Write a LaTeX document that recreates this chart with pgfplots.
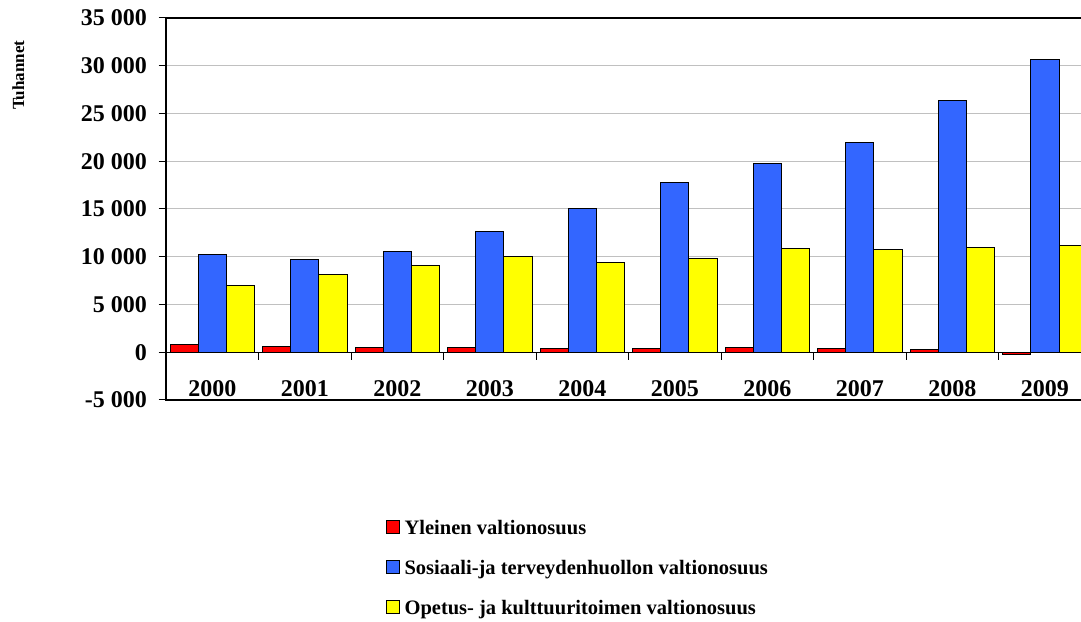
\documentclass[border=0pt]{standalone}
\usepackage{pgfplots}
\usepackage{pgfplotstable}
\pgfplotsset{compat=1.18}
\usepackage{fontspec}
\setmainfont{Liberation Serif}

\definecolor{barred}{HTML}{FF0000}
\definecolor{barblue}{HTML}{3366FF}
\definecolor{baryellow}{HTML}{FFFF00}
\definecolor{gridgray}{HTML}{C0C0C0}

% State grants to municipalities, thousands
\pgfplotstableread{
x year yleinen sosiaali opetus
0 2000  760 10260  6980
1 2001  600  9710  8100
2 2002  490 10540  9040
3 2003  520 12640 10050
4 2004  420 15080  9420
5 2005  420 17730  9840
6 2006  520 19760 10860
7 2007  420 21960 10720
8 2008  310 26360 10930
9 2009 -280 30610 11130
}\grants

\pgfplotsset{
  sqleg/.style={legend image code/.code={\draw[##1] (0pt,-4.5pt) rectangle (13pt,8.5pt);}},
}

\begin{document}
\begin{tikzpicture}[x=1pt,y=1pt]
\begin{axis}[
  at={(179.6,231.5)}, anchor=south west,
  scale only axis, width=925pt, height=382pt,
  xmin=-0.5, xmax=9.5, ymin=-5000, ymax=35000,
  ybar, bar width=0.305,
  axis line style={black, line width=1.3pt},
  scaled y ticks=false,
  ytick={-5000,0,5000,10000,15000,20000,25000,30000,35000},
  yticklabels={-5 000,0,5 000,10 000,15 000,20 000,25 000,30 000,35 000},
  ytick pos=left, tick align=outside, major tick length=7.5pt,
  ytick style={black, line width=1pt},
  xtick={0,...,9},
  xticklabels={2000,2001,2002,2003,2004,2005,2006,2007,2008,2009},
  xtick style={draw=none}, xtick pos=bottom,
  ymajorgrids, grid style={gridgray, line width=1pt},
  tick label style={font=\bfseries\fontsize{24}{28}\selectfont},
  yticklabel style={inner sep=0pt, xshift=-11.6pt},
  xticklabel style={anchor=base, inner sep=0pt, yshift=10.5pt},
  ylabel={Tuhannet},
  ylabel style={at={(axis description cs:-0.1598,0.850)}, anchor=center,
    font=\bfseries\fontsize{17}{20}\selectfont},
  legend style={at={(0.237,-0.307)}, anchor=north west, draw=none, fill=none,
    inner sep=0pt, row sep=16pt,
    font=\bfseries\fontsize{20.5}{24}\selectfont,
    nodes={text height=15pt, text depth=5pt, inner sep=2pt},
    /tikz/every odd column/.append style={column sep=3pt}},
  legend cell align=left,
]
\addplot[fill=barred, draw=black, line width=1pt, bar shift=-0.305, sqleg]
  table[x=x, y=yleinen] {\grants};
\addplot[fill=barblue, draw=black, line width=1pt, bar shift=0, sqleg]
  table[x=x, y=sosiaali] {\grants};
\addplot[fill=baryellow, draw=black, line width=1pt, bar shift=0.305, sqleg]
  table[x=x, y=opetus] {\grants};
\legend{Yleinen valtionosuus, Sosiaali-ja terveydenhuollon valtionosuus, Opetus- ja kulttuuritoimen valtionosuus}
% zero line and category separators
\draw[black, line width=1.3pt] (axis cs:-0.5,0) -- (axis cs:9.5,0);
\pgfplotsinvokeforeach{0.5,1.5,...,9.5}{\draw[black, line width=1pt] (axis cs:#1,0) -- ++(0pt,-8pt);}
\end{axis}
\pgfresetboundingbox
\useasboundingbox (0,0) rectangle (1081,621);
\end{tikzpicture}
\end{document}
